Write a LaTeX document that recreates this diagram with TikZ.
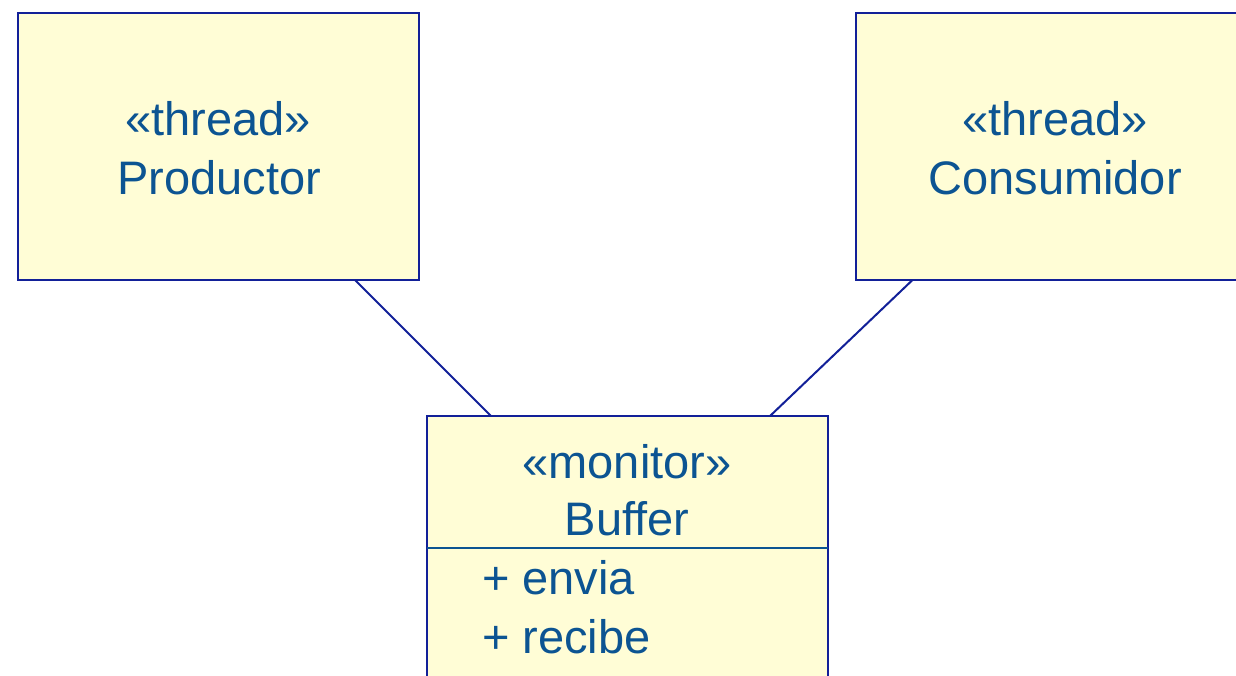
\documentclass[tikz,border=0pt]{standalone}
\usepackage{fontspec}
\setmainfont{Liberation Sans}
\usetikzlibrary{calc}
\definecolor{umlborder}{RGB}{18,32,152}
\definecolor{umltext}{RGB}{12,84,146}
\definecolor{umlfill}{RGB}{255,253,214}
\begin{document}
\begin{tikzpicture}[x=1pt,y=-1pt,
  classbox/.style={draw=umlborder,fill=umlfill,line width=2pt,inner sep=0pt,outer sep=0pt,
                   minimum width=401pt,minimum height=267pt},
  umltxt/.style={text=umltext,font=\fontsize{47}{56}\selectfont,inner sep=0pt,anchor=base},
  link/.style={draw=umlborder,line width=2pt},
  divider/.style={draw=umltext,line width=2pt}]
\useasboundingbox (0,0) rectangle (1236,675);
\clip (0,0) rectangle (1236,675);

% class boxes
\node[classbox] (prod) at (218.5,146.5) {};
\node[classbox] (cons) at (1056,146.5) {};
\node[classbox,minimum height=320pt] (buf) at (627.5,576) {};

% compartment line of the monitor
\coordinate (divy) at (0,548);
\draw[divider] (buf.west |- divy) -- (buf.east |- divy);

% associations
\coordinate (pa) at ($(prod.south west)+(337,0)$);
\coordinate (pb) at ($(buf.north west)+(64,0)$);
\coordinate (ca) at ($(cons.south west)+(57,0)$);
\coordinate (cb) at ($(buf.north east)+(-58,0)$);
\draw[link] (pa) -- (pb);
\draw[link] (ca) -- (cb);

% texts
\node[umltxt] (prodst) at (218,135) {«thread»};
\node[umltxt] (prodname) at (219,194) {Productor};
\node[umltxt] (consst) at (1055,135) {«thread»};
\node[umltxt] (consname) at (1055,194) {Consumidor};
\node[umltxt] (bufst) at (627,478) {«monitor»};
\node[umltxt] (bufname) at (627,535) {Buffer};
\node[umltxt,anchor=base west] (op1) at (482,594) {+ envia};
\node[umltxt,anchor=base west] (op2) at (482,653) {+ recibe};
\end{tikzpicture}
\end{document}
